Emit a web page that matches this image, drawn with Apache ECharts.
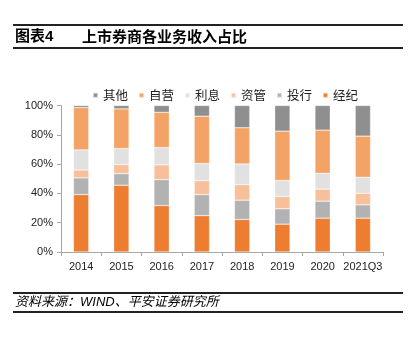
<!DOCTYPE html>
<html><head><meta charset="utf-8">
<script src="https://cdn.jsdelivr.net/npm/echarts@6/dist/echarts.min.js"></script>
<style>html,body{margin:0;padding:0;background:#fff}#c{width:410px;height:339px}</style>
</head><body><div id="c"></div>
<script>
var categories = ['2014','2015','2016','2017','2018','2019','2020','2021Q3'];
var jingji = [39.2, 45.6, 31.7, 24.8, 22.2, 19.0, 23.1, 23.1];
var touhang = [11.4, 7.9, 17.7, 14.4, 13.2, 10.5, 11.6, 9.1];
var ziguan = [5.4, 6.2, 10.1, 9.5, 10.6, 8.4, 8.2, 7.9];
var lixi = [13.7, 10.9, 11.8, 11.7, 14.1, 10.9, 10.8, 10.9];
var ziying = [28.9, 27.1, 24.1, 32.3, 24.7, 33.7, 29.5, 28.1];
var qita = [1.4, 2.3, 4.6, 7.3, 15.2, 17.5, 16.8, 20.9];
var yTicks = [0, 20, 40, 60, 80, 100];

var chart = echarts.init(document.getElementById('c'), null, {renderer:'canvas'});
var cjk = '"Liberation Sans", "Noto Sans CJK SC", sans-serif';
function s(name, data, color) {
  return {name:name, type:'bar', stack:'t', data:data, barWidth:'38%',
    itemStyle:{color:color, borderColor:'rgba(255,255,255,0.6)', borderWidth:0.5}};
}
var lineStyle = {stroke:'#222', lineWidth:2};
chart.setOption({
  animation:false,
  textStyle:{fontFamily:cjk},
  graphic:[
    {type:'line', shape:{x1:13,y1:25,x2:403,y2:25}, style:lineStyle},
    {type:'line', shape:{x1:13,y1:48,x2:403,y2:48}, style:lineStyle},
    {type:'text', left:15, top:29, style:{text:'图表4', font:'bold 15px "Liberation Sans","Noto Sans CJK SC"', fill:'#000'}},
    {type:'text', left:82, top:29, style:{text:'上市券商各业务收入占比', font:'bold 15px "Noto Sans CJK SC"', fill:'#000'}},
    {type:'line', shape:{x1:13,y1:293,x2:403,y2:293}, style:lineStyle},
    {type:'line', shape:{x1:13,y1:312,x2:403,y2:312}, style:lineStyle},
    {type:'text', left:15, top:296, style:{text:'资料来源：WIND、平安证券研究所', font:'italic 13px "Liberation Sans","Noto Sans CJK SC"', fill:'#000'}}
  ],
  legend:{left:87, top:84, itemWidth:5, itemHeight:5, itemGap:10, icon:'rect',
    textStyle:{fontSize:12.5, color:'#222', fontFamily:'"Noto Sans CJK SC"'},
    data:['其他','自营','利息','资管','投行','经纪']},
  grid:{left:61, right:27, top:105.5, bottom:87},
  xAxis:{type:'category', data:categories,
    axisLine:{lineStyle:{color:'#A6A6A6'}},
    axisTick:{show:true, length:4, lineStyle:{color:'#A6A6A6'}},
    axisLabel:{color:'#222', fontSize:11, margin:9, fontFamily:'"Liberation Sans"', interval:0}},
  yAxis:{type:'value', min:0, max:100, interval:20,
    axisLine:{show:true, lineStyle:{color:'#A6A6A6'}},
    axisTick:{show:true, length:4, lineStyle:{color:'#A6A6A6'}},
    splitLine:{show:false},
    axisLabel:{color:'#222', fontSize:11, margin:8, fontFamily:'"Liberation Sans"',
      formatter:function(v){return yTicks.indexOf(v)>=0 ? v+'%' : '';}}},
  series:[
    s('经纪', jingji, '#ED7D31'),
    s('投行', touhang, '#B2B2B2'),
    s('资管', ziguan, '#F8C09A'),
    s('利息', lixi, '#E1E1E1'),
    s('自营', ziying, '#F4A366'),
    s('其他', qita, '#8F8F8F')
  ]
});
</script></body></html>
